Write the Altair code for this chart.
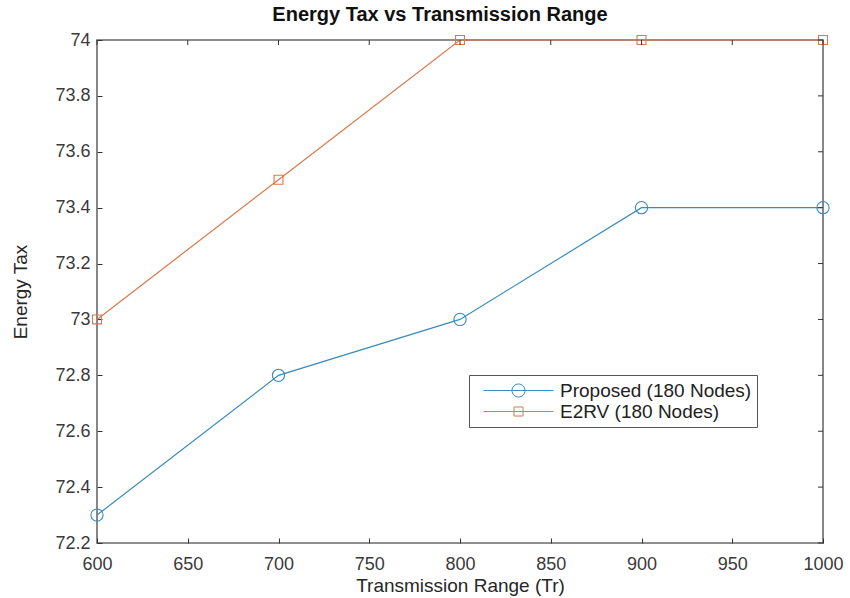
import altair as alt
import pandas as pd

# Series values
ranges = [600, 700, 800, 900, 1000]
proposed = [72.3, 72.8, 73.0, 73.4, 73.4]
e2rv = [73.0, 73.5, 74.0, 74.0, 74.0]

series_names = ["Proposed (180 Nodes)", "E2RV (180 Nodes)"]
series_colors = ["#3a8bbd", "#d9794c"]
series_shapes = ["circle", "square"]

# Tick labels
x_ticks = [600, 650, 700, 750, 800, 850, 900, 950, 1000]
y_ticks = [72.2, 72.4, 72.6, 72.8, 73.0, 73.2, 73.4, 73.6, 73.8, 74.0]

W, H = 726, 503
FONT = "Liberation Sans"
TICK_LEN = 5

df = pd.DataFrame({
    "range": ranges * 2,
    "value": proposed + e2rv,
    "series": [series_names[0]] * len(ranges) + [series_names[1]] * len(ranges),
})

x_scale = alt.Scale(domain=[600, 1000], nice=False, zero=False)
y_scale = alt.Scale(domain=[72.2, 74.0], nice=False, zero=False)

x_axis = alt.Axis(values=x_ticks, title="Transmission Range (Tr)", offset=-TICK_LEN,
                  tickSize=TICK_LEN, domain=False, grid=False, labelPadding=12,
                  labelFlush=False, titlePadding=3, format="d", titleFontSize=19)
y_axis = alt.Axis(values=y_ticks, title="Energy Tax", offset=-TICK_LEN,
                  tickSize=TICK_LEN, domain=False, grid=False, labelPadding=7,
                  labelFlush=False, titlePadding=24, format=".1~f", titleFontSize=19)

x_enc = alt.X("range:Q", scale=x_scale, axis=x_axis)
y_enc = alt.Y("value:Q", scale=y_scale, axis=y_axis)

base = alt.Chart(df)

layers = []
for name, color, shape in zip(series_names, series_colors, series_shapes):
    sub = base.transform_filter(alt.datum.series == name)
    layers.append(sub.mark_line(color=color, strokeWidth=1.2).encode(x=x_enc, y=y_enc))
    layers.append(
        sub.mark_point(shape=shape, filled=False, color=color, strokeWidth=1.1,
                       size=150 if shape == "circle" else 80, opacity=1)
        .encode(x=x_enc, y=y_enc)
    )

# Legend: line sample with marker drawn as a custom symbol path
r, k = 0.65, 0.359
circle_path = (
    f"M-3.5,0H3.5M{r},0C{r},{k} {k},{r} 0,{r}C-{k},{r} -{r},{k} -{r},0"
    f"C-{r},-{k} -{k},-{r} 0,-{r}C{k},-{r} {r},-{k} {r},0Z"
)
s = 0.45
square_path = f"M-3.5,0H3.5M-{s},-{s}H{s}V{s}H-{s}Z"

legend_cfg = dict(
    title=None, orient="none", legendX=372, legendY=335,
    strokeColor="#555555", fillColor="white", padding=5,
    symbolSize=400, symbolStrokeWidth=1, symbolOffset=34, symbolOpacity=1,
    labelOffset=31, labelFont=FONT, labelFontSize=19, labelColor="#222222",
    labelLimit=400, rowPadding=0,
)
legend_layer = base.mark_point(filled=False, opacity=0).encode(
    x=x_enc, y=y_enc,
    color=alt.Color("series:N", scale=alt.Scale(domain=series_names, range=series_colors),
                    legend=alt.Legend(**legend_cfg)),
    shape=alt.Shape("series:N", scale=alt.Scale(domain=series_names, range=[circle_path, square_path]),
                    legend=alt.Legend(**legend_cfg)),
)

# Inward ticks on the top and right edges of the box
xt = alt.Chart(pd.DataFrame({"range": x_ticks})).mark_rule(color="#333333", strokeWidth=1).encode(
    x=x_enc, y=alt.value(0), y2=alt.value(TICK_LEN)
)
yt = alt.Chart(pd.DataFrame({"value": y_ticks})).mark_rule(color="#333333", strokeWidth=1).encode(
    y=y_enc, x=alt.value(W), x2=alt.value(W - TICK_LEN)
)

chart = (
    alt.layer(*layers, legend_layer, xt, yt)
    .properties(
        width=W, height=H,
        autosize=alt.AutoSizeParams(type="none"),
        padding={"left": 97, "top": 40, "right": 27, "bottom": 55},
        background="white",
        title=alt.TitleParams(
            "Energy Tax vs Transmission Range", font=FONT, fontSize=20,
            fontWeight="bold", color="#111111", anchor="middle", offset=6, dx=-20,
        ),
    )
    .configure_view(stroke="#6a6a6a", strokeWidth=1.6)
    .configure_axis(
        labelFont=FONT, labelFontSize=18, labelColor="#3a3a3a",
        titleFont=FONT, titleFontWeight="normal", titleColor="#262626",
        tickColor="#333333", tickWidth=1,
    )
)

chart.save("out.html", embed_options={"renderer": "svg", "actions": False})
